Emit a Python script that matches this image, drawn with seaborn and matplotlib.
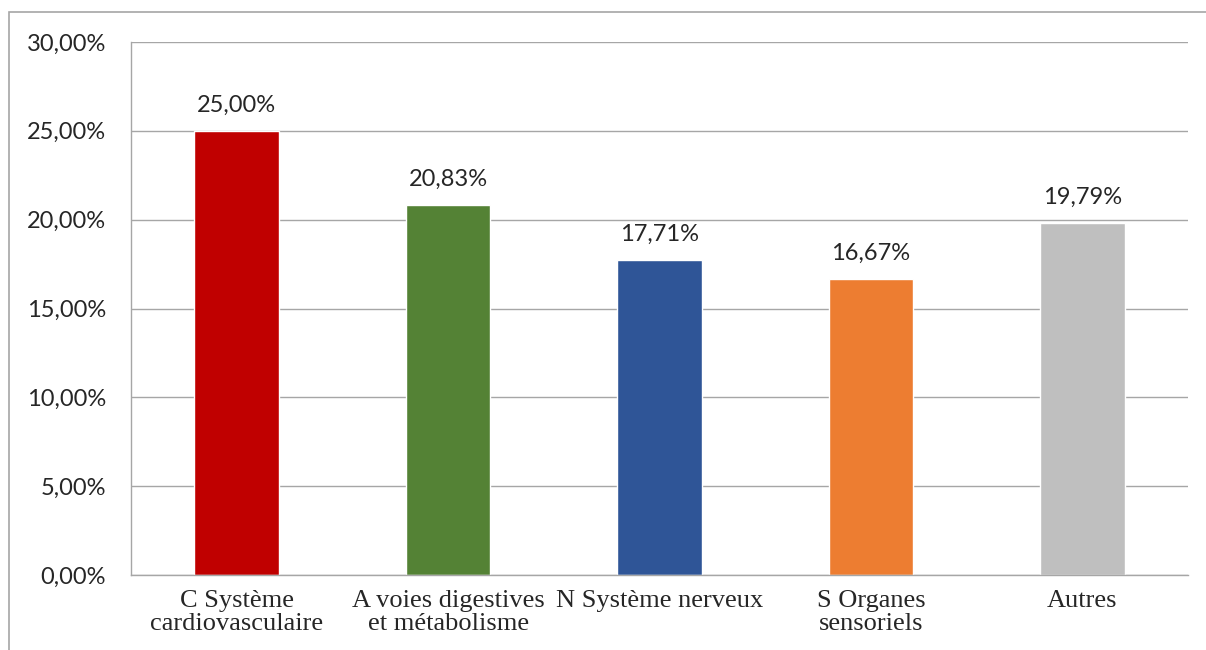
import matplotlib
matplotlib.use("Agg")
import matplotlib.pyplot as plt
import matplotlib.patches as mpatches
from matplotlib.ticker import FuncFormatter, MultipleLocator
import seaborn as sns
import pandas as pd

categories = ["C Système\ncardiovasculaire", "A voies digestives\net métabolisme",
              "N Système nerveux", "S Organes\nsensoriels", "Autres"]
values = [25.00, 20.83, 17.71, 16.67, 19.79]
colors = ["#C00000", "#548235", "#2F5597", "#ED7D31", "#BFBFBF"]

sns.set_style("white")
plt.rcParams["font.family"] = ["Lato", "DejaVu Sans"]

df = pd.DataFrame({"cat": categories, "val": values})

fig = plt.figure(figsize=(12.06, 6.5), dpi=100)
ax = fig.add_axes([131/1206, 75/650, (1188-131)/1206, (575-42)/650])

sns.barplot(data=df, x="cat", y="val", hue="cat", palette=colors, width=0.4,
            legend=False, ax=ax, saturation=1)

ax.set_ylim(0, 30)
ax.set_xlim(-0.5, len(categories) - 0.5)
ax.yaxis.set_major_locator(MultipleLocator(5))
ax.yaxis.set_major_formatter(FuncFormatter(lambda v, p: f"{v:.2f}".replace(".", ",") + "%"))
ax.grid(axis="y", color="#A6A6A6", linewidth=1)
ax.set_axisbelow(True)
for s in ["top", "right"]:
    ax.spines[s].set_visible(False)
for s in ["left", "bottom"]:
    ax.spines[s].set_color("#A6A6A6")
    ax.spines[s].set_linewidth(1)

ax.set_xlabel("")
ax.set_ylabel("")
ax.tick_params(axis="y", length=8, color="#A6A6A6", width=1, labelsize=17, pad=10)
ax.set_xticks(range(len(categories)))
ax.set_xticklabels(categories, fontfamily=["Liberation Serif"], fontsize=19, linespacing=1.05)
ax.tick_params(axis="x", length=0, pad=11)
ax.set_xticks([i - 0.5 for i in range(len(categories) + 1)], minor=True)
ax.tick_params(axis="x", which="minor", length=7, color="#A6A6A6", width=1)

for i, v in enumerate(values):
    ax.annotate(f"{v:.2f}".replace(".", ",") + "%", (i, v), xytext=(0, 11),
                textcoords="offset points", ha="center", va="bottom", fontsize=17)

border = mpatches.Rectangle((9/1206, -0.1), 1.2, 1 - 12/650 + 0.1, transform=fig.transFigure,
                            fill=False, edgecolor="#A6A6A6", linewidth=1.2, clip_on=False)
fig.patches.append(border)

fig.savefig("out.png", dpi=100)
